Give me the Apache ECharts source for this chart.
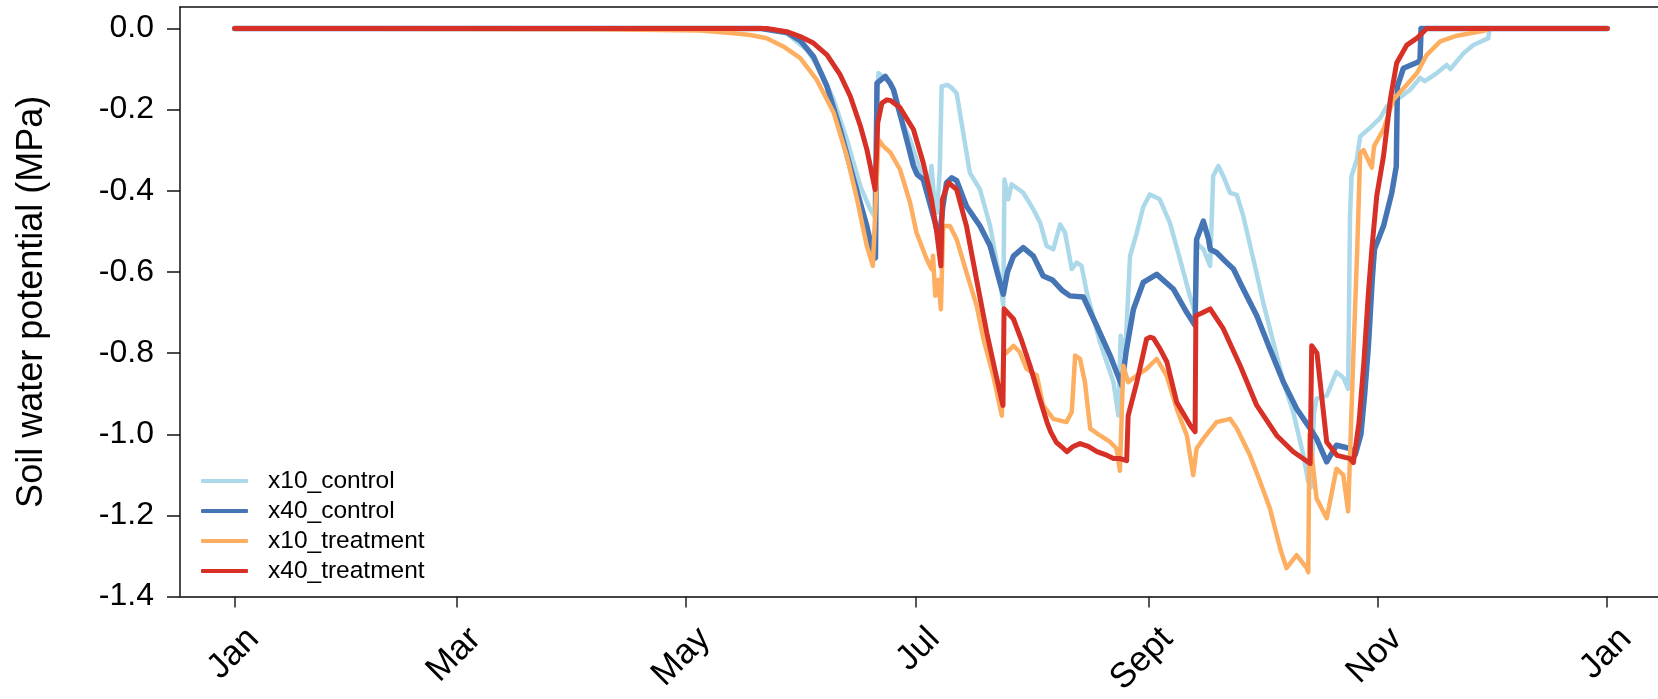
<!DOCTYPE html>
<html>
<head>
<meta charset="utf-8">
<title>Soil water potential</title>
<script src="https://cdn.jsdelivr.net/npm/echarts@6/dist/echarts.min.js"></script>
<style>
  html, body { margin: 0; padding: 0; background: #ffffff; }
  #chart { width: 1658px; height: 699px; }
</style>
</head>
<body>
<div id="chart"></div>
<script>
// Day of year (0 = 1 Jan) and soil water potential (MPa) for each sensor.
const x10Control = [
  [0,0],[140,0],[146.8,-0.012],[152.2,-0.053],[155.7,-0.102],[159.3,-0.176],[162.8,-0.274],
  [166.4,-0.389],[169,-0.446],[170.1,-0.462],[170.6,-0.2],[171.2,-0.11],[172.5,-0.12],
  [174.3,-0.135],[175.1,-0.151],[176.9,-0.216],[179.6,-0.274],[182.2,-0.347],[184.5,-0.405],
  [185.3,-0.339],[186,-0.42],[186.8,-0.454],[187.5,-0.35],[188,-0.143],[189.5,-0.139],
  [190.5,-0.145],[192,-0.16],[193.3,-0.233],[195.5,-0.356],[198.2,-0.397],[200.9,-0.487],
  [203.5,-0.62],[204.4,-0.683],[204.7,-0.372],[205.7,-0.421],[206.6,-0.384],[209.7,-0.405],
  [212.4,-0.446],[214.2,-0.479],[215.9,-0.536],[217.7,-0.544],[219.5,-0.483],[220.8,-0.503],
  [222.6,-0.593],[223.9,-0.577],[225.2,-0.585],[226.6,-0.651],[230.1,-0.773],[233.7,-0.872],
  [235,-0.954],[235.6,-0.757],[236.8,-0.806],[238.1,-0.561],[239.9,-0.503],[241.6,-0.44],
  [243.4,-0.409],[246,-0.421],[248.7,-0.479],[251.4,-0.569],[254,-0.659],[255.4,-0.7],
  [255.6,-0.528],[257.6,-0.544],[259.4,-0.585],[260.2,-0.364],[261.6,-0.339],[262.9,-0.364],
  [264.7,-0.405],[266.5,-0.41],[268.2,-0.462],[270.9,-0.569],[273.5,-0.675],[276.2,-0.773],
  [278.9,-0.872],[281.5,-0.945],[284.2,-1.052],[285.5,-1.117],[286.3,-1.13],[287,-0.95],
  [287.7,-0.912],[290.4,-0.905],[293,-0.847],[294.8,-0.86],[296.1,-0.888],[296.6,-0.462],
  [297,-0.364],[298.4,-0.323],[299.3,-0.266],[301.9,-0.245],[304.6,-0.221],[306.4,-0.192],
  [309,-0.176],[312.6,-0.151],[315.2,-0.122],[316.5,-0.13],[319.7,-0.11],[322.3,-0.09],
  [323.3,-0.1],[326.8,-0.061],[329.4,-0.041],[333.4,-0.024],[333.6,-0.005]
];

const x40Control = [
  [0,0],[140,0],[146.8,-0.01],[150.4,-0.03],[153.9,-0.069],[157.5,-0.143],[161,-0.249],
  [164.6,-0.372],[168.1,-0.487],[169.9,-0.56],[170.4,-0.565],[170.8,-0.135],[173,-0.118],
  [174.3,-0.135],[175.2,-0.151],[176.9,-0.21],[178.7,-0.274],[180.5,-0.339],[181.5,-0.36],
  [183.1,-0.372],[185.8,-0.462],[187.4,-0.52],[188.3,-0.44],[189.3,-0.38],[190.7,-0.368],
  [192,-0.375],[194.6,-0.438],[198.2,-0.487],[200.9,-0.536],[203.5,-0.626],[204.4,-0.655],
  [205.5,-0.6],[207.1,-0.561],[209.7,-0.54],[212.4,-0.561],[215,-0.61],[217.5,-0.62],
  [220,-0.645],[222.1,-0.659],[225.7,-0.662],[229.2,-0.732],[232.8,-0.806],[235.9,-0.88],
  [237,-0.8],[239,-0.692],[241.6,-0.626],[245.2,-0.606],[249.6,-0.642],[253.2,-0.7],
  [255.4,-0.732],[255.8,-0.52],[257.6,-0.475],[259,-0.52],[259.4,-0.544],[261.1,-0.552],
  [263.8,-0.577],[265.6,-0.593],[268.2,-0.642],[271.8,-0.708],[275.3,-0.79],[278.9,-0.872],
  [282.4,-0.937],[286,-0.986],[287.7,-1.011],[290.4,-1.068],[293,-1.027],[296.6,-1.035],
  [298,-1.05],[299.5,-1.0],[300.5,-0.9],[301.5,-0.78],[302.5,-0.62],[303.1,-0.544],
  [305.5,-0.487],[307.7,-0.405],[308.9,-0.34],[309.2,-0.143],[310.8,-0.098],[314.4,-0.084],
  [315.2,-0.08],[315.5,0],[365,0]
];

const x10Treatment = [
  [0,0],[97,-0.002],[123.8,-0.005],[132.7,-0.012],[137.1,-0.016],[141.5,-0.024],[146,-0.045],
  [150.4,-0.073],[154.8,-0.127],[159.3,-0.208],[162.8,-0.315],[165.5,-0.421],[168.1,-0.536],
  [169.7,-0.585],[170.3,-0.462],[171.2,-0.274],[172.5,-0.29],[174.3,-0.305],[176.9,-0.347],
  [179.6,-0.429],[181.3,-0.503],[184,-0.568],[185.3,-0.593],[185.7,-0.56],[186.3,-0.659],
  [187.1,-0.62],[187.8,-0.692],[188.4,-0.487],[190.2,-0.487],[192,-0.52],[194.6,-0.601],
  [197.3,-0.683],[199.1,-0.765],[201.7,-0.855],[204,-0.954],[204.4,-0.806],[207.1,-0.782],
  [208.8,-0.798],[210.6,-0.839],[213.3,-0.855],[215,-0.929],[217.7,-0.962],[221.2,-0.97],
  [222.6,-0.945],[223.5,-0.806],[224.8,-0.814],[226.1,-0.872],[227.5,-0.986],[230.1,-1.003],
  [232.8,-1.019],[234.5,-1.035],[235.4,-1.09],[236.3,-0.831],[237.6,-0.872],[239.9,-0.855],
  [242.5,-0.839],[245.2,-0.814],[247.8,-0.855],[250.5,-0.937],[253.2,-1.003],[254.9,-1.101],
  [255.8,-1.035],[257.6,-1.011],[261.1,-0.97],[264.7,-0.962],[266.5,-0.986],[270,-1.052],
  [272.7,-1.117],[275.3,-1.183],[278,-1.281],[279.7,-1.33],[282.4,-1.298],[285.1,-1.33],
  [285.5,-1.34],[285.8,-1.0],[287.7,-1.158],[290.4,-1.207],[293,-1.085],[294.8,-1.1],
  [296.1,-1.19],[297.5,-0.8],[298.5,-0.55],[299.3,-0.307],[300.2,-0.3],[302.4,-0.343],
  [303,-0.29],[305.5,-0.249],[308.1,-0.176],[311.7,-0.139],[314.4,-0.11],[317,-0.065],
  [320.6,-0.032],[325,-0.018],[332.1,-0.006],[334,0],[365,0]
];

const x40Treatment = [
  [0,0],[141.5,0],[146.8,-0.008],[150.4,-0.02],[153.9,-0.036],[157.5,-0.065],[161,-0.114],
  [163.7,-0.167],[166.4,-0.241],[168.1,-0.298],[170.3,-0.397],[171,-0.233],[172.1,-0.184],
  [173.4,-0.176],[174.5,-0.178],[176.9,-0.195],[180.5,-0.249],[183.1,-0.331],[185.3,-0.421],
  [186.7,-0.503],[187.8,-0.585],[188.2,-0.421],[189.8,-0.38],[192,-0.397],[194.6,-0.487],
  [197.3,-0.62],[200,-0.75],[202.6,-0.86],[204.3,-0.929],[204.6,-0.691],[207.1,-0.716],
  [209.3,-0.77],[211.5,-0.831],[214,-0.91],[216,-0.97],[217,-0.994],[218.5,-1.02],
  [220.4,-1.035],[221.3,-1.043],[223,-1.03],[224.8,-1.023],[227,-1.03],[229.3,-1.043],
  [231.5,-1.05],[233.7,-1.06],[235.5,-1.06],[237.2,-1.065],[237.6,-0.954],[239.9,-0.872],
  [242.5,-0.765],[243.4,-0.761],[244.3,-0.763],[246.1,-0.79],[247.9,-0.822],[250.5,-0.921],
  [254.1,-0.978],[255.4,-0.994],[255.6,-0.708],[257.5,-0.7],[259.4,-0.691],[262.9,-0.74],
  [267.4,-0.831],[271.8,-0.929],[277.1,-1.003],[281.5,-1.043],[286,-1.072],[286.4,-0.782],
  [287.8,-0.8],[290.4,-1.019],[293.1,-1.052],[296.6,-1.06],[297.5,-1.07],[299,-0.97],
  [300.3,-0.82],[301.5,-0.65],[302.4,-0.544],[303.7,-0.413],[305.5,-0.315],[307.3,-0.176],
  [309,-0.085],[311.7,-0.041],[314.4,-0.024],[317,0],[365,0]
];

// Axis ticks: first day of every second month, and potential levels.
const monthTickDays = [0, 59, 120, 181, 243, 304, 365];
const monthTickLabels = ['Jan', 'Mar', 'May', 'Jul', 'Sept', 'Nov', 'Jan'];
const potentialTicks = [-1.4, -1.2, -1.0, -0.8, -0.6, -0.4, -0.2, 0.0];

const seriesNames = ['x10_control', 'x40_control', 'x10_treatment', 'x40_treatment'];
const seriesData = [x10Control, x40Control, x10Treatment, x40Treatment];
const seriesColors = ['#abd9e9', '#4575b4', '#fdae61', '#d73027'];
const seriesWidths = [4.5, 5.5, 4.5, 5];

const FONT = "'Liberation Sans', Arial, Helvetica, sans-serif";
const chart = echarts.init(document.getElementById('chart'), null, { renderer: 'canvas' });

const xRange = { min: -14.55, max: 378.5 };
// The slanted month names sit a little to the right of their tick marks.
const LABEL_NUDGE_DAYS = 5;
const monthLabelDays = monthTickDays.map(function (d) { return d + LABEL_NUDGE_DAYS; });

chart.setOption({
  backgroundColor: '#ffffff',
  animation: false,
  grid: { left: 180, right: 0, top: 7, bottom: 100.5, containLabel: false },
  legend: {
    orient: 'vertical',
    left: 201,
    top: 466,
    padding: 0,
    icon: 'roundRect',
    itemWidth: 47,
    itemHeight: 4,
    itemGap: 0,
    data: seriesNames,
    textStyle: {
      fontFamily: FONT, fontSize: 24.5, color: '#000',
      lineHeight: 30, padding: [0, 0, 0, 15]
    }
  },
  xAxis: [
    {
      // axis line and month ticks
      type: 'value',
      position: 'bottom',
      min: xRange.min,
      max: xRange.max,
      splitLine: { show: false },
      axisLine: { show: true, onZero: false, lineStyle: { color: '#444', width: 2 } },
      axisTick: {
        show: true, inside: false, length: 11, customValues: monthTickDays,
        lineStyle: { color: '#222', width: 1.5 }
      },
      axisLabel: { show: false }
    },
    {
      // frame line along the top
      type: 'value',
      position: 'top',
      min: xRange.min,
      max: xRange.max,
      splitLine: { show: false },
      axisLine: { show: true, onZero: false, lineStyle: { color: '#111', width: 1.5 } },
      axisTick: { show: false },
      axisLabel: { show: false }
    },
    {
      // slanted month names
      type: 'value',
      position: 'bottom',
      min: xRange.min,
      max: xRange.max,
      splitLine: { show: false },
      axisLine: { show: false, onZero: false },
      axisTick: { show: false },
      axisLabel: {
        customValues: monthLabelDays,
        rotate: 45,
        margin: 37,
        fontFamily: FONT,
        fontSize: 35,
        color: '#000',
        formatter: function (v) {
          const i = monthLabelDays.indexOf(v);
          return i >= 0 ? monthTickLabels[i] : '';
        }
      }
    }
  ],
  yAxis: {
    type: 'value',
    min: -1.4,
    max: 0.0528,
    name: 'Soil water potential (MPa)',
    nameLocation: 'middle',
    nameGap: 130,
    nameTextStyle: { fontFamily: FONT, fontSize: 36, color: '#000' },
    splitLine: { show: false },
    axisLine: { show: true, onZero: false, lineStyle: { color: '#111', width: 1.5 } },
    axisTick: {
      show: true, inside: false, length: 13, customValues: potentialTicks,
      lineStyle: { color: '#111', width: 1.5 }
    },
    axisLabel: {
      customValues: potentialTicks,
      margin: 26,
      fontFamily: FONT,
      fontSize: 32,
      color: '#000',
      formatter: function (v) { return (Math.abs(v) < 1e-9 ? 0 : v).toFixed(1); }
    }
  },
  series: seriesNames.map(function (name, i) {
    return {
      name: name,
      type: 'line',
      xAxisIndex: 0,
      data: seriesData[i],
      showSymbol: false,
      symbol: 'none',
      smooth: false,
      color: seriesColors[i],
      lineStyle: { color: seriesColors[i], width: seriesWidths[i], cap: 'round', join: 'round' },
      z: 2 + i
    };
  })
});
</script>
</body>
</html>
